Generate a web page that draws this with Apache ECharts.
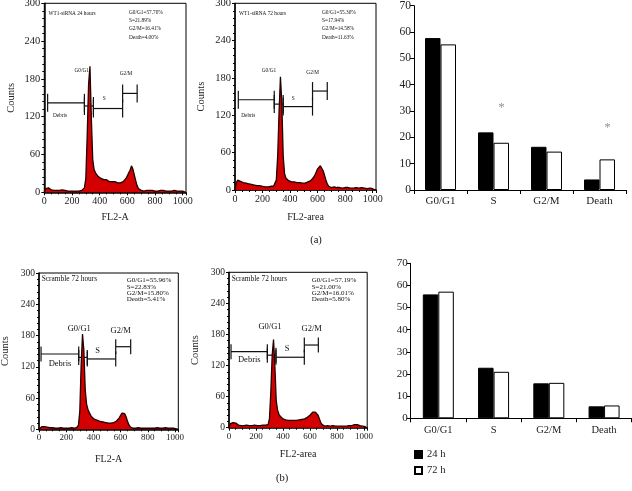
<!DOCTYPE html>
<html>
<head>
<meta charset="utf-8">
<script src="https://cdn.jsdelivr.net/npm/echarts@6/dist/echarts.min.js"></script>
<style>
html, body { margin: 0; padding: 0; background: #fff; }
#chart { width: 632px; height: 491px; }
</style>
</head>
<body>
<div id="chart"></div>
<script>
// DNA histograms, bins of 10 channels starting at channel 0
const binWidth = 10;
const wt24Counts = [
  0, 6, 8, 7, 5, 4, 5, 3, 4, 3,
  4, 3, 3, 4, 2, 3, 3, 2, 3, 2,
  3, 2, 3, 2, 3, 2, 3, 3, 4, 7,
  22, 90, 172, 200, 118, 52, 36, 31, 28, 25,
  23, 22, 21, 20, 19, 20, 18, 17, 18, 17,
  16, 17, 16, 15, 16, 15, 16, 17, 19, 22,
  26, 31, 35, 42, 37, 28, 19, 11, 6, 4,
  3, 3, 2, 3, 3, 2, 3, 2, 3, 3,
  2, 3, 2, 2, 3, 2, 3, 2, 2, 3,
  2, 3, 2, 2, 3, 2, 2, 3, 2, 2,
  2, 1, 0
];
const wt72Counts = [
  0, 12, 16, 15, 14, 13, 12, 12, 11, 10,
  10, 9, 9, 8, 8, 8, 7, 7, 7, 6,
  6, 6, 5, 6, 5, 5, 6, 5, 6, 8,
  16, 55, 125, 182, 140, 55, 26, 19, 16, 15,
  14, 13, 15, 13, 12, 12, 11, 12, 11, 11,
  12, 11, 12, 13, 13, 15, 17, 20, 24, 29,
  34, 37, 39, 36, 31, 24, 16, 10, 6, 5,
  4, 4, 5, 4, 4, 3, 4, 4, 3, 4,
  4, 3, 4, 3, 3, 4, 3, 3, 4, 3,
  3, 3, 4, 3, 3, 3, 2, 3, 3, 3,
  2, 2, 0
];
const scrACounts = [
  0, 3, 5, 6, 5, 5, 4, 4, 3, 3,
  3, 3, 2, 3, 2, 2, 3, 2, 2, 2,
  2, 3, 2, 2, 3, 2, 2, 3, 4, 8,
  35, 125, 183, 150, 75, 48, 38, 32, 27, 23,
  21, 19, 18, 17, 16, 15, 15, 14, 13, 13,
  12, 12, 11, 12, 12, 13, 14, 16, 18, 22,
  27, 31, 32, 30, 24, 16, 9, 5, 3, 2,
  2, 2, 2, 3, 2, 2, 2, 2, 3, 2,
  2, 2, 3, 2, 2, 2, 2, 3, 2, 2,
  2, 2, 2, 3, 2, 2, 2, 2, 2, 2,
  2, 1, 0
];
const scrAreaCounts = [
  0, 8, 11, 10, 12, 9, 7, 5, 5, 4,
  5, 4, 4, 5, 4, 4, 5, 4, 4, 5,
  4, 4, 5, 4, 4, 5, 4, 5, 5, 6,
  18, 70, 140, 170, 118, 52, 34, 26, 22, 19,
  17, 16, 15, 15, 14, 13, 14, 13, 14, 13,
  14, 14, 15, 15, 16, 16, 17, 18, 20, 22,
  24, 27, 30, 31, 30, 28, 24, 17, 10, 6,
  4, 3, 3, 4, 3, 3, 3, 4, 3, 3,
  3, 3, 4, 3, 3, 3, 4, 3, 3, 4,
  4, 4, 5, 6, 7, 6, 5, 4, 3, 3,
  3, 2, 0
];

// gates: [start channel, end channel, counts level]
const gatesWt24 = [[24, 290, 142], [290, 355, 137], [355, 566, 133], [566, 671, 157]];
const gatesWt72 = [[24, 285, 145], [285, 350, 138], [350, 563, 134], [563, 670, 159]];
const gatesScrA = [[15, 292, 144.5], [292, 355, 138], [355, 564, 135], [564, 674, 158.5]];
const gatesScrArea = [[15, 284, 146.7], [284, 348, 140], [348, 558, 136], [558, 662, 159.6]];

// cell cycle percentages
const phases = ['G0/G1', 'S', 'G2/M', 'Death'];
const wt24Pct = [57.70, 21.89, 16.41, 4.00];
const wt72Pct = [55.30, 17.94, 14.58, 11.63];
const scr24Pct = [55.96, 22.83, 15.80, 5.41];
const scr72Pct = [57.19, 21.00, 16.01, 5.80];
const sigMarks = [null, 32.5, null, 24.7];

const serif = '"Liberation Serif", "DejaVu Serif", serif';

const hist = [
  { counts: wt24Counts, gates: gatesWt24, pct: wt24Pct, title: 'WT1-siRNA 24 hours', xName: 'FL2-A',
    grid: { left: 44.3, top: 3.3, width: 141.7, height: 189 }, xGap: 20, yGap: 27.6, lab: 10.5, small: true,
    titlePos: [48.5, 13.3], statPos: [129, 12.3, 8.3],
    gateText: [[81.7, 71], [104.3, 99], [126, 73.3], [60, 116]] },
  { counts: wt72Counts, gates: gatesWt72, pct: wt72Pct, title: 'WT1-siRNA 72 hours', xName: 'FL2-area',
    grid: { left: 235, top: 3.3, width: 141, height: 186.7 }, xGap: 22, yGap: 28.3, lab: 10.5, small: true,
    titlePos: [239, 13.3], statPos: [322, 12.3, 8.3],
    gateText: [[269, 71], [293.3, 99], [312.7, 72.7], [248.3, 116]] },
  { counts: scrACounts, gates: gatesScrA, pct: scr24Pct, title: 'Scramble 72 hours', xName: 'FL2-A',
    grid: { left: 39, top: 273, width: 139.3, height: 156.3 }, xGap: 25, yGap: 28.7, lab: 9.5, small: false,
    titlePos: [41.7, 278.7], statPos: [126.7, 280.3, 6.4],
    gateText: [[79.3, 329], [97.7, 350.7], [120.7, 330.3], [60, 363.3]] },
  { counts: scrAreaCounts, gates: gatesScrArea, pct: scr72Pct, title: 'Scramble 72 hours', xName: 'FL2-area',
    grid: { left: 229, top: 272.3, width: 138.2, height: 155.4 }, xGap: 22, yGap: 28.7, lab: 9.5, small: false,
    titlePos: [231.7, 278.7], statPos: [311.7, 280.3, 6.4],
    gateText: [[270, 326.7], [287, 349], [311.7, 329], [249.3, 360]] }
];
const gateNames = ['G0/G1', 'S', 'G2/M', 'Debris'];

const grids = [], xAxes = [], yAxes = [], series = [], graphics = [];

function txt(x, y, text, size, align) {
  return { type: 'text', x: x, y: y, silent: true,
    style: { text: text, fontFamily: serif, fontSize: size, fill: '#111',
      align: align || 'center', verticalAlign: 'middle' } };
}

hist.forEach((p, i) => {
  grids.push(Object.assign({ show: true, borderColor: '#000', borderWidth: 1, outerBoundsMode: 'none' }, p.grid));
  xAxes.push({
    type: 'value', gridIndex: i, min: 0, max: 1024, interval: 200,
    name: p.xName, nameLocation: 'middle', nameGap: p.xGap,
    nameTextStyle: { fontFamily: serif, fontSize: 10, color: '#222' },
    axisLine: { show: true, onZero: false, lineStyle: { color: '#000', width: 1.5 } },
    axisTick: { show: true, length: 3, lineStyle: { color: '#000' } },
    minorTick: { show: true, splitNumber: 4, length: 2, lineStyle: { color: '#000' } },
    axisLabel: { fontFamily: serif, fontSize: p.lab - 0.5, color: '#222', margin: 4, showMaxLabel: false,
      formatter: v => String(v) },
    splitLine: { show: false }
  });
  yAxes.push({
    type: 'value', gridIndex: i, min: 0, max: 300, interval: 60,
    name: 'Counts', nameLocation: 'middle', nameGap: p.yGap, nameRotate: 90,
    nameTextStyle: { fontFamily: serif, fontSize: 10.5, color: '#222' },
    axisLine: { show: true, lineStyle: { color: '#000', width: 1.5 } },
    axisTick: { show: true, length: 3, lineStyle: { color: '#000' } },
    minorTick: { show: true, splitNumber: 5, length: 2, lineStyle: { color: '#000' } },
    axisLabel: { fontFamily: serif, fontSize: p.lab, color: '#222', margin: 4 },
    splitLine: { show: false }
  });
  series.push({
    type: 'line', xAxisIndex: i, yAxisIndex: i, symbol: 'none',
    data: p.counts.map((c, k) => [k * binWidth, c]),
    lineStyle: { color: '#220000', width: 1.3 },
    areaStyle: { color: '#d20000', opacity: 1 }
  });
  const cap = p.small ? 9 : 7.5;
  series.push({
    type: 'custom', xAxisIndex: i, yAxisIndex: i, data: p.gates, clip: false, silent: true,
    renderItem: function (params, api) {
      const a = api.coord([api.value(0), api.value(2)]);
      const b = api.coord([api.value(1), api.value(2)]);
      const st = { stroke: '#111', lineWidth: 1.2 };
      return { type: 'group', children: [
        { type: 'line', shape: { x1: a[0], y1: a[1], x2: b[0], y2: b[1] }, style: st },
        { type: 'line', shape: { x1: a[0], y1: a[1] - cap, x2: a[0], y2: a[1] + cap }, style: st },
        { type: 'line', shape: { x1: b[0], y1: b[1] - cap, x2: b[0], y2: b[1] + cap }, style: st }
      ] };
    }
  });
  const fs = p.small ? 5.3 : 7;
  graphics.push(txt(p.titlePos[0], p.titlePos[1], p.title, p.small ? 5.3 : 7.4, 'left'));
  p.pct.forEach((v, k) => {
    graphics.push(txt(p.statPos[0], p.statPos[1] + k * p.statPos[2], phases[k] + '=' + v.toFixed(2) + '%', fs, 'left'));
  });
  const gs = p.small ? 5.3 : 8.5;
  p.gateText.forEach((pos, k) => graphics.push(txt(pos[0], pos[1], gateNames[k], gs)));
});

// bar charts
const bars = [
  { a: wt24Pct, b: wt72Pct, grid: { left: 414, top: 5.7, width: 212, height: 184.3 }, lab: 11.5, cat: 11 },
  { a: scr24Pct, b: scr72Pct, grid: { left: 410.7, top: 263.3, width: 221, height: 155 }, lab: 11, cat: 10.5 }
];
bars.forEach((p, j) => {
  const i = 4 + j;
  grids.push(Object.assign({ outerBoundsMode: 'none' }, p.grid));
  xAxes.push({
    type: 'category', gridIndex: i, data: phases,
    axisLine: { lineStyle: { color: '#000', width: 1 } },
    axisTick: { show: true, length: 4, lineStyle: { color: '#000' } },
    axisLabel: { fontFamily: serif, fontSize: p.cat, color: '#222', margin: 6 }
  });
  yAxes.push({
    type: 'value', gridIndex: i, min: 0, max: 70, interval: 10,
    axisLine: { show: true, lineStyle: { color: '#000', width: 1 } },
    axisTick: { show: true, length: 4, lineStyle: { color: '#000' } },
    axisLabel: { fontFamily: serif, fontSize: p.lab, color: '#222', margin: 3 },
    splitLine: { show: false }
  });
  series.push({
    type: 'bar', name: '24 h', xAxisIndex: i, yAxisIndex: i, data: p.a,
    barWidth: 15.5, barGap: '0%',
    itemStyle: { color: '#000', borderColor: '#000', borderWidth: 1 }
  });
  series.push({
    type: 'bar', name: '72 h', xAxisIndex: i, yAxisIndex: i, data: p.b,
    barWidth: 15.5, barGap: '0%',
    itemStyle: { color: '#fff', borderColor: '#000', borderWidth: 1 }
  });
});
series.push({
  type: 'scatter', xAxisIndex: 4, yAxisIndex: 4, symbolSize: 0, silent: true,
  data: sigMarks.map((v, k) => v == null ? null : [phases[k], v]).filter(d => d),
  label: { show: true, formatter: '*', offset: [8, 3], fontFamily: serif, fontSize: 13, color: '#777' }
});

graphics.push(txt(316, 240, '(a)', 10.5));
graphics.push(txt(282, 478, '(b)', 10.5));

const chart = echarts.init(document.getElementById('chart'), null, { renderer: 'canvas' });
chart.setOption({
  animation: false,
  backgroundColor: '#fff',
  grid: grids,
  xAxis: xAxes,
  yAxis: yAxes,
  legend: {
    data: ['24 h', '72 h'], orient: 'vertical', left: 409, top: 444,
    icon: 'rect', itemWidth: 7, itemHeight: 7, itemGap: 5, selectedMode: false,
    textStyle: { fontFamily: serif, fontSize: 10.5, color: '#222' }
  },
  series: series,
  graphic: graphics
});
</script>
</body>
</html>
